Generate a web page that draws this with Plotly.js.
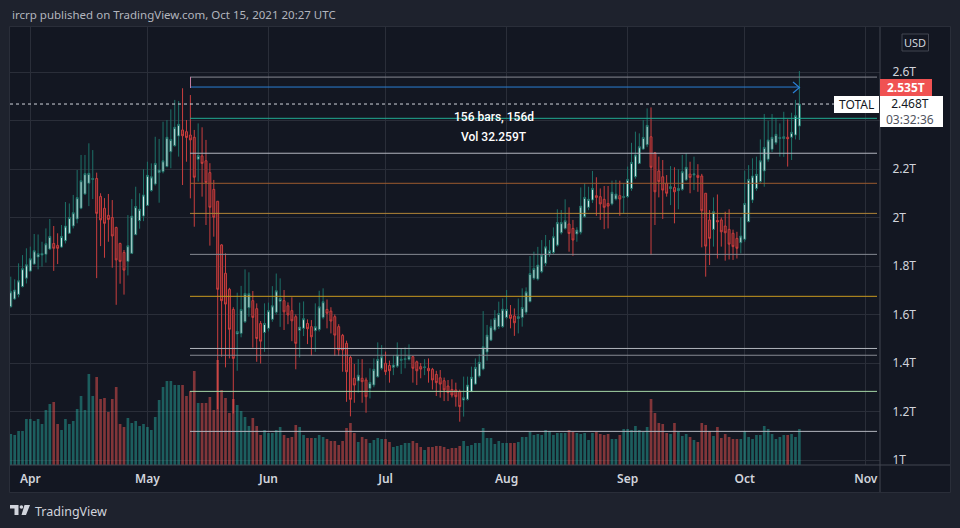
<!DOCTYPE html>
<html>
<head>
<meta charset="utf-8">
<script src="https://cdn.plot.ly/plotly-3.0.1.min.js"></script>
<style>
html,body{margin:0;padding:0;background:#1e222d;}
#chart{width:960px;height:528px;}
</style>
</head>
<body>
<div id="chart"></div>
<script>
// ---- DATA (TOTAL crypto market cap, daily, trillions USD) ----
const firstDay = '2021-03-27';
const monthTicks = ['2021-04-01','2021-05-01','2021-06-01','2021-07-01','2021-08-01','2021-09-01','2021-10-01','2021-11-01'];
const monthLabels = ['Apr','May','Jun','Jul','Aug','Sep','Oct','Nov'];
const priceTicks = [1.0,1.2,1.4,1.6,1.8,2.0,2.2,2.4,2.6];
const priceLabels = ['1T','1.2T','1.4T','1.6T','1.8T','2T','2.2T','','2.6T'];

const open = [
 1.632,1.664,1.683,1.715,1.750,
 1.779,1.808,1.837,1.845,1.848,1.870,1.893,1.885,1.878,1.904,1.935,1.965,1.994,2.038,2.097,2.141,2.157,2.161,2.087,2.038,2.009,2.000,1.959,1.893,1.856,1.819,1.852,1.929,1.987,2.006,
 2.050,2.111,2.138,2.185,2.189,2.210,2.271,2.296,2.336,2.361,2.354,2.340,2.331,2.240,2.254,2.234,2.185,2.116,2.067,1.887,1.770,1.704,1.621,1.520,1.522,1.570,1.628,1.657,1.624,1.563,1.526,
 1.543,1.580,1.609,1.655,1.657,1.636,1.616,1.591,1.535,1.543,1.563,1.550,1.533,1.538,1.588,1.621,1.614,1.591,1.550,1.514,1.481,1.423,1.337,1.326,1.337,1.330,1.295,1.309,1.343,1.378,
 1.399,1.390,1.382,1.387,1.411,1.414,1.415,1.426,1.405,1.385,1.381,1.378,1.374,1.353,1.339,1.327,1.305,1.291,1.289,1.282,1.247,1.250,1.282,1.313,1.346,1.375,1.445,1.494,1.536,1.550,1.550,
 1.588,1.598,1.594,1.584,1.588,1.609,1.653,1.749,1.746,1.776,1.811,1.852,1.856,1.886,1.937,1.955,1.973,1.955,1.932,1.939,2.003,2.042,2.072,2.090,2.086,2.075,2.058,2.056,2.076,2.090,2.083,
 2.086,2.120,2.168,2.223,2.282,2.300,2.333,2.267,2.192,2.168,2.141,2.120,2.124,2.111,2.116,2.155,2.179,2.175,2.174,2.171,2.100,1.990,1.951,1.988,1.990,1.965,1.951,1.935,1.914,1.896,
 1.910,1.983,2.072,2.120,2.148,2.192,2.240,2.281,2.308,2.326,2.326,2.331,2.331,2.340,2.377
];
const high = [
 1.756,1.745,1.811,1.845,1.873,
 1.880,1.932,1.930,1.900,1.955,1.994,1.965,1.935,1.969,2.064,2.058,2.093,2.196,2.258,2.258,2.306,2.278,2.185,2.100,2.080,2.097,2.072,1.962,1.896,1.866,2.010,2.076,2.127,2.100,2.199,
 2.230,2.223,2.333,2.324,2.395,2.402,2.446,2.485,2.480,2.533,2.402,2.505,2.361,2.388,2.372,2.320,2.224,2.155,2.067,1.890,1.852,1.710,1.630,1.690,1.718,1.786,1.774,1.697,1.646,1.573,1.646,
 1.649,1.717,1.769,1.749,1.701,1.650,1.671,1.600,1.649,1.654,1.580,1.577,1.646,1.698,1.708,1.662,1.630,1.600,1.560,1.520,1.492,1.430,1.396,1.416,1.416,1.340,1.378,1.419,1.485,1.474,
 1.447,1.410,1.433,1.485,1.460,1.464,1.477,1.430,1.410,1.400,1.416,1.419,1.380,1.368,1.371,1.340,1.330,1.333,1.319,1.290,1.344,1.344,1.385,1.419,1.437,1.614,1.557,1.580,1.618,1.653,1.666,
 1.701,1.639,1.625,1.666,1.708,1.712,1.841,1.859,1.879,1.907,1.928,1.907,1.959,2.034,2.031,2.075,2.042,1.990,1.960,2.124,2.141,2.127,2.192,2.166,2.120,2.130,2.130,2.152,2.155,2.152,2.141,
 2.210,2.308,2.354,2.347,2.402,2.450,2.454,2.270,2.251,2.237,2.175,2.212,2.207,2.199,2.258,2.265,2.230,2.251,2.220,2.180,2.100,2.031,2.083,2.095,2.000,2.024,2.034,1.950,1.941,2.000,
 2.193,2.216,2.244,2.251,2.322,2.427,2.399,2.427,2.409,2.388,2.436,2.405,2.432,2.485,2.604
];
const low = [
 1.629,1.660,1.671,1.712,1.728,
 1.776,1.805,1.786,1.797,1.814,1.866,1.780,1.808,1.875,1.893,1.932,1.955,1.976,2.034,2.093,2.047,2.076,1.750,1.882,1.834,1.900,1.793,1.640,1.727,1.682,1.761,1.849,1.928,1.954,1.985,
 2.047,2.106,2.132,2.061,2.182,2.207,2.203,2.292,2.251,2.134,2.230,2.079,1.962,2.148,2.086,1.969,1.884,1.921,1.210,1.426,1.382,1.419,1.192,1.368,1.506,1.565,1.591,1.463,1.405,1.398,1.446,
 1.530,1.570,1.600,1.549,1.536,1.560,1.490,1.374,1.423,1.511,1.478,1.430,1.446,1.530,1.580,1.543,1.522,1.429,1.429,1.364,1.240,1.180,1.236,1.278,1.236,1.195,1.254,1.300,1.340,1.370,
 1.350,1.319,1.350,1.380,1.355,1.378,1.410,1.319,1.309,1.337,1.350,1.319,1.291,1.264,1.257,1.243,1.243,1.258,1.220,1.158,1.179,1.245,1.280,1.310,1.340,1.370,1.410,1.490,1.530,1.540,1.545,
 1.580,1.543,1.512,1.522,1.550,1.600,1.650,1.742,1.740,1.770,1.800,1.838,1.850,1.880,1.930,1.950,1.859,1.842,1.900,1.930,2.000,2.030,2.060,2.007,1.990,1.952,1.955,2.050,2.070,2.007,2.017,
 2.080,2.110,2.160,2.220,2.280,2.290,1.845,1.969,2.083,1.994,2.086,2.051,1.976,2.034,2.110,2.150,2.100,2.113,2.106,1.877,1.756,1.804,1.880,1.831,1.880,1.822,1.827,1.825,1.831,1.852,
 1.900,1.980,2.060,2.110,2.140,2.127,2.230,2.270,2.300,2.251,2.250,2.210,2.237,2.322,2.320
];
const close = [
 1.694,1.701,1.739,1.789,1.805,
 1.830,1.863,1.851,1.852,1.892,1.922,1.873,1.873,1.922,1.965,2.000,2.020,2.082,2.152,2.181,2.182,2.161,2.017,1.990,1.976,1.992,1.924,1.825,1.819,1.783,1.884,2.006,2.045,2.034,2.093,
 2.174,2.168,2.223,2.196,2.234,2.331,2.322,2.372,2.384,2.337,2.330,2.320,2.166,2.256,2.223,2.144,2.042,2.001,1.704,1.657,1.643,1.539,1.419,1.530,1.621,1.687,1.686,1.588,1.501,1.490,1.563,
 1.616,1.636,1.698,1.666,1.611,1.598,1.574,1.481,1.548,1.583,1.541,1.508,1.550,1.632,1.653,1.605,1.573,1.515,1.454,1.454,1.364,1.250,1.309,1.350,1.323,1.261,1.320,1.374,1.415,1.426,
 1.364,1.368,1.392,1.433,1.415,1.418,1.429,1.378,1.368,1.375,1.384,1.368,1.330,1.319,1.313,1.289,1.278,1.268,1.261,1.220,1.257,1.309,1.341,1.382,1.403,1.467,1.515,1.550,1.584,1.604,1.622,
 1.621,1.584,1.566,1.591,1.629,1.694,1.769,1.790,1.804,1.845,1.879,1.863,1.921,1.979,1.979,1.987,1.934,1.907,1.948,2.047,2.083,2.075,2.120,2.083,2.056,2.042,2.047,2.104,2.097,2.076,2.087,
 2.157,2.227,2.258,2.292,2.330,2.380,2.207,2.106,2.148,2.113,2.100,2.127,2.106,2.120,2.189,2.207,2.165,2.180,2.165,2.028,1.882,1.914,2.024,1.982,1.941,1.937,1.890,1.880,1.873,1.924,
 2.058,2.157,2.171,2.178,2.234,2.289,2.320,2.331,2.343,2.330,2.333,2.325,2.351,2.420,2.468
];
// volume, billions USD
const volume = [
 155,150,170,170,230,
 230,220,230,205,275,305,315,205,175,230,205,220,280,345,275,455,345,440,330,335,265,330,390,205,190,235,210,220,195,205,
 190,175,240,325,390,420,420,400,400,400,345,370,470,310,310,310,340,275,525,375,335,260,330,300,270,240,195,235,195,150,175,
 160,160,175,190,150,135,140,200,190,150,135,135,135,150,140,130,120,120,100,120,185,210,160,115,140,130,110,125,135,130,
 130,115,90,95,100,110,110,120,110,90,75,90,90,95,95,90,80,85,85,95,120,95,100,110,110,185,135,135,105,120,110,
 110,110,110,115,140,140,165,150,155,150,175,170,150,160,160,160,175,165,160,155,160,125,160,165,155,150,155,130,130,150,180,
 180,175,195,175,165,190,330,260,210,205,160,155,210,165,145,155,140,125,115,210,200,170,145,190,135,155,140,130,130,130,
 170,140,130,150,150,195,180,155,130,140,150,150,155,140,180
];

// user-drawn horizontal levels (price, colour)
const levelPrices = [2.579, 2.409, 2.265, 2.141, 2.017, 1.848, 1.675, 1.460, 1.432, 1.283, 1.118];
const levelColors = ['#868993','#22ab94','#b2b5be','#9b5a2f','#b08437','#868993','#c99a1f','#b2b5be','#868993','#a5d6a7','#b2b5be'];
const rangeLinePrice = 2.538;
const rangeLabel = '156 bars, 156d';
const rangeVolLabel = 'Vol 32.259T';
const markerLabel = '2.535T';
const lastLabel = '2.468T';
const countdown = '03:32:36';
const symbolName = 'TOTAL';

// ---- build ----
const dates = open.map((_, i) => {
  const d = new Date(Date.UTC(2021, 2, 27 + i));
  return d.toISOString().slice(0, 10);
});
const volColors = open.map((o, i) => close[i] >= o ? 'rgba(38,166,154,0.5)' : 'rgba(239,83,80,0.5)');

// pixel -> paper helpers for decorations
const PL = 10, PR = 880, PT = 27, PB = 465;
const px = x => (x - PL) / (PR - PL);
const py = y => (PB - y) / (PB - PT);

const volTrace = {
  type: 'bar', x: dates, y: volume, yaxis: 'y2',
  marker: {color: volColors, line: {width: 0}},
  width: 0.68 * 86400000, hoverinfo: 'skip', showlegend: false
};
const candle = {
  type: 'candlestick', x: dates, open: open, high: high, low: low, close: close,
  increasing: {line: {color: '#1d7168', width: 1}, fillcolor: '#e0f2f1'},
  decreasing: {line: {color: '#c93e3e', width: 1}, fillcolor: '#5a1e23'},
  whiskerwidth: 0, hoverinfo: 'skip', showlegend: false
};

const shapes = [];
// chart frame
shapes.push({type:'rect', xref:'paper', yref:'paper', x0:px(9.5), x1:px(950.5), y0:py(26.5), y1:py(492.5),
  fillcolor:'#131722', line:{color:'#2a2e39', width:1}, layer:'below'});
// axis separators
shapes.push({type:'line', xref:'paper', yref:'paper', x0:px(880), x1:px(880), y0:py(27), y1:py(492), line:{color:'#434651', width:1}});
shapes.push({type:'line', xref:'paper', yref:'paper', x0:px(10), x1:px(950), y0:py(465), y1:py(465), line:{color:'#434651', width:1}});
// drawn levels
levelPrices.forEach((p, i) => {
  shapes.push({type:'line', xref:'paper', yref:'y', x0:px(190), x1:px(877), y0:p, y1:p, line:{color:levelColors[i], width:1}});
});
// date range line with arrow
shapes.push({type:'line', xref:'paper', yref:'y', x0:px(190), x1:px(799), y0:rangeLinePrice, y1:rangeLinePrice, line:{color:'#2a7fd4', width:1}});
shapes.push({type:'path', xref:'paper', yref:'paper',
  path:`M ${px(793)} ${py(82)} L ${px(799.5)} ${py(87.5)} L ${px(793)} ${py(93)}`, line:{color:'#2a7fd4', width:1.2}});
shapes.push({type:'line', xref:'paper', yref:'paper', x0:px(190.5), x1:px(190.5), y0:py(77), y1:py(88), line:{color:'#c27ba0', width:1}});
// last price dotted line
shapes.push({type:'line', xref:'paper', yref:'y', x0:0, x1:px(834), y0:close[close.length-1], y1:close[close.length-1],
  line:{color:'#d1d4dc', width:1, dash:'dot'}});
// price labels boxes
shapes.push({type:'rect', xref:'paper', yref:'paper', x0:px(880), x1:px(932), y0:py(79), y1:py(96), fillcolor:'#f05252', line:{width:0}});
shapes.push({type:'rect', xref:'paper', yref:'paper', x0:px(834), x1:px(879), y0:py(96), y1:py(113), fillcolor:'#ffffff', line:{width:0}});
shapes.push({type:'rect', xref:'paper', yref:'paper', x0:px(880), x1:px(943), y0:py(96), y1:py(127), fillcolor:'#ffffff', line:{width:0}});
// USD button
shapes.push({type:'rect', xref:'paper', yref:'paper', x0:px(902), x1:px(928.5), y0:py(34), y1:py(51), fillcolor:'#131722', line:{color:'#434651', width:1}});
// TradingView logo icon
shapes.push({type:'path', xref:'paper', yref:'paper', fillcolor:'#d1d4dc', line:{width:0},
  path:`M ${px(10)} ${py(505)} L ${px(18.5)} ${py(505)} L ${px(18.5)} ${py(515)} L ${px(14.5)} ${py(515)} L ${px(14.5)} ${py(508.5)} L ${px(10)} ${py(508.5)} Z`});
shapes.push({type:'circle', xref:'paper', yref:'paper', fillcolor:'#d1d4dc', line:{width:0},
  x0:px(19.6), x1:px(23.2), y0:py(505.2), y1:py(508.8)});
shapes.push({type:'path', xref:'paper', yref:'paper', fillcolor:'#d1d4dc', line:{width:0},
  path:`M ${px(24.5)} ${py(505)} L ${px(30)} ${py(505)} L ${px(26)} ${py(515)} L ${px(21.5)} ${py(515)} Z`});

const ann = (x, y, text, opts) => Object.assign({xref:'paper', yref:'paper', x:px(x), y:py(y), text:text,
  showarrow:false, xanchor:'center', yanchor:'middle', font:{family:'Noto Sans', size:12, color:'#d1d4dc'}}, opts || {});

const annotations = [
  ann(10, 15, 'ircrp published on TradingView.com, Oct 15, 2021 20:27 UTC', {xanchor:'left', font:{family:'Noto Sans', size:11.5, color:'#b2b5be'}}),
  ann(494, 117, rangeLabel, {font:{family:'Roboto', size:12, color:'#ffffff', weight:500}}),
  ann(494, 137, rangeVolLabel, {font:{family:'Roboto', size:12, color:'#ffffff', weight:500}}),
  ann(906, 87.5, markerLabel, {font:{family:'Noto Sans', size:12, color:'#ffffff', weight:700}}),
  ann(856.5, 104.5, symbolName, {font:{family:'Noto Sans', size:12, color:'#131722'}}),
  ann(910, 111.5, lastLabel + '<br><span style="color:#50535e">' + countdown + '</span>',
      {align:'center', font:{family:'Noto Sans', size:12, color:'#131722'}}),
  ann(915, 42.5, 'USD', {font:{family:'Noto Sans', size:11, color:'#d1d4dc'}}),
  ann(33, 511, 'TradingView', {xanchor:'left', font:{family:'Noto Sans', size:12.5, color:'#d1d4dc'}})
];

const layout = {
  width: 960, height: 528,
  margin: {l: PL, r: 960 - PR, t: PT, b: 528 - PB, pad: 0},
  paper_bgcolor: '#1e222d', plot_bgcolor: '#131722',
  showlegend: false, dragmode: false, hovermode: false,
  xaxis: {
    type: 'date', range: ['2021-03-26 19:12', '2021-11-04 15:36'],
    tickvals: monthTicks, ticktext: monthLabels,
    showgrid: true, gridcolor: '#2a2e39', gridwidth: 1, zeroline: false,
    ticks: 'outside', ticklen: 3, tickcolor: 'rgba(0,0,0,0)',
    tickfont: {family: 'Noto Sans', size: 12, color: '#d1d4dc', weight: 600},
    showline: false, rangeslider: {visible: false}, fixedrange: true
  },
  yaxis: {
    side: 'right', range: [0.9794, 2.7856],
    tickvals: priceTicks, ticktext: priceLabels,
    showgrid: true, gridcolor: '#2a2e39', gridwidth: 1, zeroline: false,
    ticks: 'outside', ticklen: 9, tickcolor: 'rgba(0,0,0,0)',
    tickfont: {family: 'Noto Sans', size: 12, color: '#d1d4dc'},
    showline: false, fixedrange: true
  },
  yaxis2: {overlaying: 'y', range: [0, 438 * 5], visible: false, fixedrange: true},
  shapes: shapes,
  annotations: annotations
};

Plotly.newPlot('chart', [volTrace, candle], layout, {displayModeBar: false, staticPlot: true});
</script>
</body>
</html>
